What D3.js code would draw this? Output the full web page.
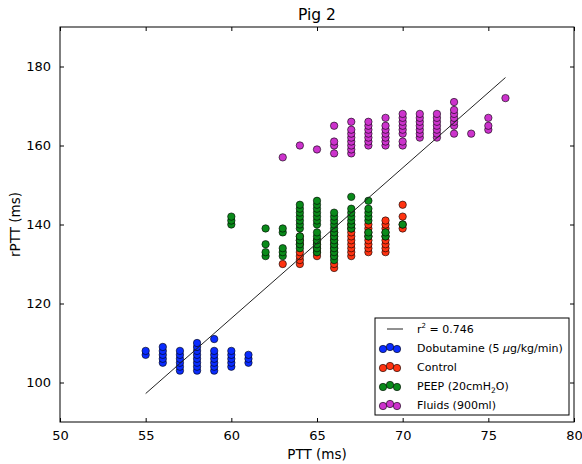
<!DOCTYPE html>
<html>
<head>
<meta charset="utf-8">
<script src="https://cdn.jsdelivr.net/npm/d3@7"></script>
<style>
  body { margin: 0; background: #fff; }
  text { font-family: "DejaVu Sans", sans-serif; }
</style>
</head>
<body>
<svg id="chart"></svg>
<script>
// PTT (x) per column, rPTT (y) values in each column
var dobutamine = [
  [55, [107, 108]],
  [56, [105, 106, 107, 108, 109]],
  [57, [103, 104, 105, 106, 107, 108]],
  [58, [103, 104, 105, 106, 107, 108, 109, 110]],
  [59, [103, 104, 105, 106, 107, 108, 111]],
  [60, [104, 105, 106, 107, 108]],
  [61, [105, 106, 107]]
];
var control = [
  [63, [130]],
  [64, [130, 131, 132, 133, 135, 136, 137]],
  [65, [132, 133, 134, 135, 136]],
  [66, [129, 130, 132, 133, 134, 135, 136, 137, 138]],
  [67, [132, 133, 134, 135, 136, 137, 138, 139, 140]],
  [68, [133, 134, 135, 136, 137, 138, 139, 140]],
  [69, [133, 134, 135, 136, 137, 138, 139, 140, 141]],
  [70, [139, 140, 142, 145]]
];
var peep = [
  [60, [140, 141, 142]],
  [62, [132, 133, 135, 139]],
  [63, [132, 133, 134, 138, 139]],
  [64, [134, 135, 136, 137, 139, 140, 141, 142, 143, 144, 145]],
  [65, [133, 134, 135, 136, 137, 138, 140, 141, 142, 143, 144, 145, 146]],
  [66, [131, 132, 133, 134, 135, 136, 137, 138, 139, 140, 141, 142, 143]],
  [67, [139, 140, 141, 142, 143, 144, 147]],
  [68, [137, 138, 141, 142, 143, 144, 146]],
  [69, [137, 138]],
  [70, [140]]
];
var fluids = [
  [63, [157]],
  [64, [160]],
  [65, [159]],
  [66, [158, 160, 161, 165]],
  [67, [158, 159, 160, 161, 162, 163, 164, 166]],
  [68, [160, 161, 162, 163, 164, 165, 166]],
  [69, [160, 161, 162, 163, 164, 165, 167]],
  [70, [160, 161, 163, 164, 165, 166, 167, 168]],
  [71, [162, 163, 164, 165, 166, 167, 168]],
  [72, [162, 163, 164, 165, 166, 167, 168]],
  [73, [163, 165, 166, 167, 168, 169, 171]],
  [74, [163]],
  [75, [164, 165, 167]],
  [76, [172]]
];
var fitLine = [[55, 97.2], [76, 177.2]];
var xTicks = [50, 55, 60, 65, 70, 75, 80];
var yTicks = [100, 120, 140, 160, 180];

var series = [
  { name: "Dobutamine", data: dobutamine, color: "#0a2cff" },
  { name: "Control", data: control, color: "#ff3311" },
  { name: "PEEP", data: peep, color: "#0a8a1a" },
  { name: "Fluids (900ml)", data: fluids, color: "#cc33cc" }
];

var w = 582, h = 464;
var mLeft = 60, mRight = 574, mTop = 27, mBottom = 422;

var svg = d3.select("#chart").attr("width", w).attr("height", h);

var x = d3.scaleLinear().domain([50, 80]).range([mLeft, mRight]);
var y = d3.scaleLinear().domain([90, 190]).range([mBottom, mTop]);

// ticks inside on all four sides
var tickLen = 4;
svg.append("g").attr("transform", "translate(0," + mBottom + ")")
  .call(d3.axisBottom(x).tickValues(xTicks).tickSizeInner(-tickLen).tickSizeOuter(0).tickPadding(9))
  .call(function(g) { g.select(".domain").remove(); });
svg.append("g").attr("transform", "translate(0," + mTop + ")")
  .call(d3.axisTop(x).tickValues(xTicks).tickSizeInner(-tickLen).tickSizeOuter(0).tickFormat(""))
  .call(function(g) { g.select(".domain").remove(); });
svg.append("g").attr("transform", "translate(" + mLeft + ",0)")
  .call(d3.axisLeft(y).tickValues(yTicks).tickSizeInner(-tickLen).tickSizeOuter(0).tickPadding(9))
  .call(function(g) { g.select(".domain").remove(); });
svg.append("g").attr("transform", "translate(" + mRight + ",0)")
  .call(d3.axisRight(y).tickValues(yTicks).tickSizeInner(-tickLen).tickSizeOuter(0).tickFormat(""))
  .call(function(g) { g.select(".domain").remove(); });

svg.selectAll(".tick text")
  .attr("font-size", 13)
  .attr("font-family", "DejaVu Sans, sans-serif")
  .attr("fill", "#000");
svg.selectAll(".tick line").attr("stroke", "#000");

svg.append("rect")
  .attr("x", mLeft).attr("y", mTop)
  .attr("width", mRight - mLeft).attr("height", mBottom - mTop)
  .attr("fill", "none").attr("stroke", "#000").attr("stroke-width", 1);

// points
series.forEach(function(s) {
  var pts = [];
  s.data.forEach(function(col) {
    col[1].forEach(function(v) { pts.push([col[0], v]); });
  });
  svg.append("g").selectAll("circle")
    .data(pts)
    .enter()
    .append("circle")
    .attr("cx", function(d) { return x(d[0]); })
    .attr("cy", function(d) { return y(d[1]); })
    .attr("r", 3.7)
    .attr("fill", s.color)
    .attr("stroke", "#000")
    .attr("stroke-width", 0.6);
});

// fit line
svg.append("path")
  .datum(fitLine)
  .attr("d", d3.line().x(function(d) { return x(d[0]); }).y(function(d) { return y(d[1]); }))
  .attr("fill", "none")
  .attr("stroke", "#222")
  .attr("stroke-width", 1);

// title and labels
svg.append("text").attr("x", (mLeft + mRight) / 2).attr("y", 20)
  .attr("text-anchor", "middle").attr("font-size", 15.5).text("Pig 2");
svg.append("text").attr("x", (mLeft + mRight) / 2).attr("y", 459)
  .attr("text-anchor", "middle").attr("font-size", 13.5).text("PTT (ms)");
svg.append("text").attr("transform", "translate(20," + ((mTop + mBottom) / 2) + ") rotate(-90)")
  .attr("text-anchor", "middle").attr("font-size", 13.5).text("rPTT (ms)");

// legend
var lg = svg.append("g").attr("transform", "translate(375,318)");
lg.append("rect").attr("width", 194).attr("height", 97)
  .attr("fill", "#fff").attr("stroke", "#000").attr("stroke-width", 1);
lg.append("line").attr("x1", 12).attr("x2", 28).attr("y1", 11).attr("y2", 11)
  .attr("stroke", "#222").attr("stroke-width", 1);
lg.append("text").attr("x", 42).attr("y", 15).attr("font-size", 11)
  .html("r<tspan font-size='7' dy='-5'>2</tspan><tspan dy='5'> = 0.746</tspan>");
var labels = [
  "Dobutamine (5 <tspan font-style='italic'>μ</tspan>g/kg/min)",
  "Control",
  "PEEP (20cmH<tspan font-size='7.5' dy='3'>2</tspan><tspan dy='-3'>O)</tspan>",
  "Fluids (900ml)"
];
var markerOff = [[7, 1], [14, -1], [21, 1]];
series.forEach(function(s, i) {
  var cy = 30 + i * 19;
  markerOff.forEach(function(m) {
    lg.append("circle").attr("cx", m[0] + 1).attr("cy", cy + m[1])
      .attr("r", 3.7).attr("fill", s.color).attr("stroke", "#000").attr("stroke-width", 0.6);
  });
  lg.append("text").attr("x", 42).attr("y", cy + 4).attr("font-size", 11).html(labels[i]);
});
</script>
</body>
</html>
